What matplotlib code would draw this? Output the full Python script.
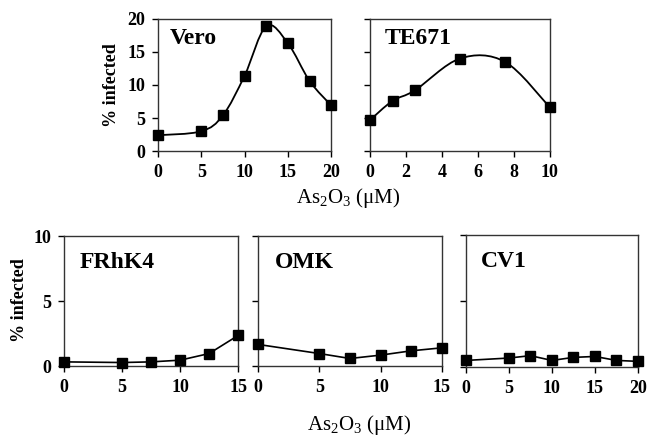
import numpy as np
import matplotlib
matplotlib.use('Agg')
import matplotlib.pyplot as plt
from matplotlib.path import Path
from matplotlib.patches import PathPatch

plt.rcParams['font.family'] = 'Liberation Serif'
plt.rcParams['font.weight'] = 'bold'
plt.rcParams['mathtext.fontset'] = 'custom'
plt.rcParams['mathtext.rm'] = 'Liberation Serif:weight=normal'
plt.rcParams['mathtext.default'] = 'rm'

# values (% infected vs As2O3 in uM)
vero_x = [0, 5, 7.5, 10, 12.5, 15, 17.5, 20]
vero_y = [2.4, 3.0, 5.4, 11.4, 18.9, 16.3, 10.6, 6.9]
te671_x = [0, 1.25, 2.5, 5, 7.5, 10]
te671_y = [4.7, 7.6, 9.2, 14.0, 13.5, 6.6]
frhk4_x = [0, 5, 7.5, 10, 12.5, 15]
frhk4_y = [0.33, 0.28, 0.33, 0.46, 0.97, 2.36]
omk_x = [0, 5, 7.5, 10, 12.5, 15]
omk_y = [1.67, 0.97, 0.59, 0.85, 1.18, 1.41]
cv1_x = [0, 5, 7.5, 10, 12.5, 15, 17.5, 20]
cv1_y = [0.5, 0.68, 0.86, 0.5, 0.73, 0.8, 0.5, 0.43]


def smooth_path(x, y):
    # excel-like smoothed line: cubic bezier with catmull-rom control points
    p = np.column_stack([x, y]).astype(float)
    p_ext = np.vstack([p[0], p, p[-1]])
    verts = [p[0]]
    codes = [Path.MOVETO]
    for i in range(len(p) - 1):
        a, b, c, d = p_ext[i], p_ext[i + 1], p_ext[i + 2], p_ext[i + 3]
        verts += [b + (c - a) / 6, c - (d - b) / 6, c]
        codes += [Path.CURVE4] * 3
    return Path(verts, codes)


def style_axes(ax, xlim, xticks, ylim, yticks, show_ylabels):
    ax.set_xlim(*xlim)
    ax.set_ylim(*ylim)
    ax.set_xticks(xticks)
    ax.set_yticks(yticks)
    if not show_ylabels:
        ax.set_yticklabels([])
    ax.tick_params(direction='out', length=4, width=1, labelsize=13, pad=5)
    for s in ax.spines.values():
        s.set_linewidth(1)
        s.set_color('#333333')


fig = plt.figure(figsize=(6.47, 4.38), dpi=100)

# top row
ax1 = fig.add_axes([0.244, 0.655, 0.268, 0.302])
ax1.add_patch(PathPatch(smooth_path(vero_x, vero_y), fill=False, lw=1.3, color='black'))
ax1.plot(vero_x, vero_y, 's', ms=7, color='black', clip_on=False, zorder=3)
style_axes(ax1, (0, 20), [0, 5, 10, 15, 20], (0, 20), [0, 5, 10, 15, 20], True)
ax1.text(0.07, 0.93, 'Vero', transform=ax1.transAxes, fontsize=17, va='top', ha='left')

ax2 = fig.add_axes([0.572, 0.655, 0.278, 0.302])
ax2.add_patch(PathPatch(smooth_path(te671_x, te671_y), fill=False, lw=1.3, color='black'))
ax2.plot(te671_x, te671_y, 's', ms=7, color='black', clip_on=False, zorder=3)
style_axes(ax2, (0, 10), [0, 2, 4, 6, 8, 10], (0, 20), [0, 5, 10, 15, 20], False)
ax2.text(0.083, 0.93, 'TE671', transform=ax2.transAxes, fontsize=17, va='top', ha='left')

# bottom row
bottom = [
    ([0.099, 0.164, 0.269, 0.297], frhk4_x, frhk4_y, 'FRhK4', (0, 15), [0, 5, 10, 15], True),
    ([0.399, 0.164, 0.284, 0.297], omk_x, omk_y, 'OMK', (0, 15), [0, 5, 10, 15], False),
    ([0.720, 0.162, 0.266, 0.302], cv1_x, cv1_y, 'CV1', (0, 20), [0, 5, 10, 15, 20], False),
]
for rect, x, y, name, xlim, xticks, showy in bottom:
    ax = fig.add_axes(rect)
    ax.plot(x, y, '-s', ms=7, lw=1.2, color='black', clip_on=False, zorder=3)
    style_axes(ax, xlim, xticks, (0, 10), [0, 5, 10], showy)
    ax.text(0.09, 0.88, name, transform=ax.transAxes, fontsize=17, va='top', ha='left')

fig.text(112 / 647, 1 - 85 / 438, '% infected', rotation=90, ha='center', va='center', fontsize=13)
fig.text(20 / 647, 1 - 300 / 438, '% infected', rotation=90, ha='center', va='center', fontsize=13)
fig.text(348 / 647, 1 - 198 / 438, 'As$_2$O$_3$ (μM)', ha='center', va='center',
         fontsize=15, fontweight='normal')
fig.text(359 / 647, 1 - 425 / 438, 'As$_2$O$_3$ (μM)', ha='center', va='center',
         fontsize=15, fontweight='normal')

fig.savefig('out.png', dpi=100)
